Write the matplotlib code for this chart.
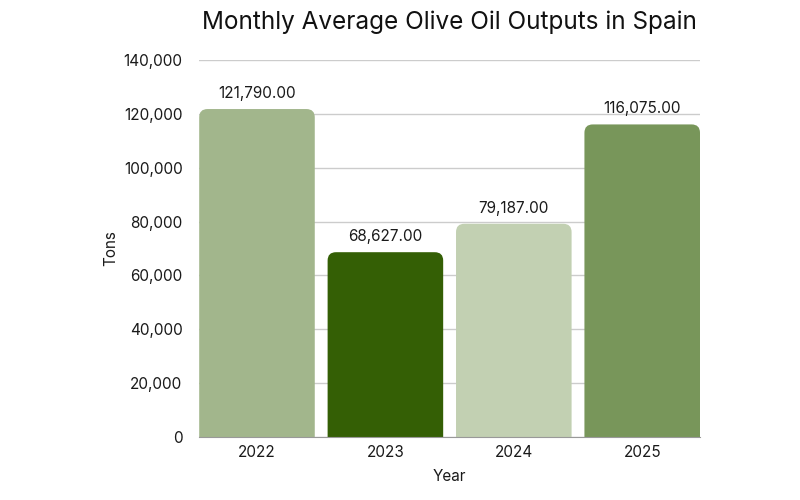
import matplotlib
matplotlib.use("Agg")
import matplotlib.pyplot as plt
from matplotlib.patches import FancyBboxPatch
from matplotlib.ticker import FuncFormatter

years = ["2022", "2023", "2024", "2025"]
values = [121790.00, 68627.00, 79187.00, 116075.00]
colors = ["#a2b68c", "#345f05", "#c2d0b2", "#78965a"]

plt.rcParams['font.family'] = ['Inter', 'DejaVu Sans']

fig = plt.figure(figsize=(8, 5), dpi=100)
ax = fig.add_axes([0.249, 0.126, 0.626, 0.754])

bars = ax.bar(range(len(years)), values, width=0.9, color=colors, zorder=2)
ax.set_xlim(-0.45, len(years) - 0.55)
ax.set_ylim(0, 140000)

# replace bars with top-rounded versions
for b in bars:
    x0, w, h = b.get_x(), b.get_width(), b.get_height()
    b.set_visible(False)
    p = FancyBboxPatch((x0, -8000), w, h + 8000,
                       boxstyle="round,pad=0,rounding_size=0.065",
                       mutation_aspect=47500, facecolor=b.get_facecolor(),
                       edgecolor="none", zorder=2)
    ax.add_patch(p)

for i, v in enumerate(values):
    ax.text(i, v + 3000, f"{v:,.2f}", ha="center", va="bottom", fontsize=11, color="#1a1a1a")

ax.set_yticks(range(0, 140001, 20000))
ax.yaxis.set_major_formatter(FuncFormatter(lambda v, p: f"{int(v):,}"))
ax.set_xticks(range(len(years)))
ax.set_xticklabels(years)
ax.tick_params(axis='both', length=0, labelsize=11, colors="#1a1a1a")
ax.tick_params(axis='y', pad=12)
ax.tick_params(axis='x', pad=6)
ax.grid(axis='y', color="#cccccc", linewidth=1, zorder=0)
for s in ["top", "right", "left"]:
    ax.spines[s].set_visible(False)
ax.spines["bottom"].set_color("#999999")

ax.set_xlabel("Year", fontsize=11, color="#1a1a1a", labelpad=6)
ax.set_ylabel("Tons", fontsize=11, color="#1a1a1a", labelpad=4)
ax.set_title("Monthly Average Olive Oil Outputs in Spain", fontsize=17.5, color="#111111", pad=22)

fig.savefig("out.png", dpi=100)
